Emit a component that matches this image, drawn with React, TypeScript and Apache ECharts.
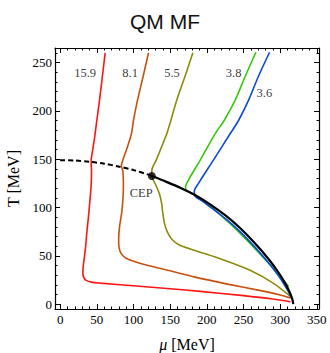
import React, { useEffect, useRef } from "react";
import * as echarts from "echarts";

const majorX = [0, 50, 100, 150, 200, 250, 300, 350];
const minorX = [0, 10, 20, 30, 40, 50, 60, 70, 80, 90, 100, 110, 120, 130, 140, 150, 160, 170, 180, 190, 200, 210, 220, 230, 240, 250, 260, 270, 280, 290, 300, 310, 320, 330, 340, 350];
const majorY = [0, 50, 100, 150, 200, 250];
const minorY = [0, 10, 20, 30, 40, 50, 60, 70, 80, 90, 100, 110, 120, 130, 140, 150, 160, 170, 180, 190, 200, 210, 220, 230, 240, 250, 260];

// isentropes s/n (mu [MeV], T [MeV])
const s159: number[][] = [[61.4, 260], [57.5, 235], [53.7, 211], [50, 190], [47.5, 175], [44.5, 160], [42.3, 147.5], [42.8, 138], [42.6, 128], [41.5, 115], [40, 102], [38.3, 88], [36.5, 75], [34.8, 60], [33, 48], [31.3, 38], [31, 32], [32.3, 27.5], [35.5, 24.6], [43, 22.8], [55, 21.8], [100, 19], [150, 16], [191, 13.2], [250, 8.8], [290, 5.3], [314, 2.5]];
const s81: number[][] = [[120.5, 260], [113, 235], [105.5, 211], [100, 190], [97.3, 176.5], [91.5, 162], [85.5, 149], [83.5, 143], [85.5, 138], [86.3, 125], [85.8, 111], [84, 95], [81, 80], [79.8, 67], [80.5, 58], [83.5, 52], [90, 47.5], [100, 44.5], [120, 40], [150, 34.5], [184, 28], [230, 20.5], [270, 14.5], [300, 9.5], [314, 6.5]];
const s55: number[][] = [[181, 260], [170, 235], [159, 211], [151, 190], [145.5, 176.5], [138, 162], [131, 149], [125, 138], [125, 132.5], [130, 124], [135.5, 114], [138.5, 104], [140, 94], [142.5, 83], [146, 75], [152, 67.5], [162, 61.5], [184, 55.5], [220, 46.5], [259, 35], [290, 22], [314, 8]];
const s38: number[][] = [[267, 260.6], [252, 235], [238.7, 211], [223.7, 190], [211.5, 176.5], [191, 149], [175, 128.4], [171, 121], [172, 118], [185, 112.3], [195, 107.6], [205, 101.5], [230, 84.5], [255, 66], [287, 40], [311.5, 18.4]];
const s36: number[][] = [[285.6, 260.6], [270, 235], [257, 211], [243.3, 190], [232, 176.5], [209, 149], [188.7, 125], [183, 117], [183, 113.2], [195, 106], [205, 100.3], [225, 88.7], [245, 75.3], [265, 59.5], [285, 42], [298, 29], [307, 18.5], [313, 10.5], [316, 5.5]];
// phase boundary
const crossover: number[][] = [[0, 149], [20, 148.6], [40.9, 147.3], [60, 145.3], [80.9, 142.2], [100, 138.7], [120.5, 134], [125, 132.5]];
const firstOrder: number[][] = [[125, 132.5], [145, 126.5], [165, 120], [185, 112.5], [205, 103], [225, 92], [245, 79], [265, 63.5], [285, 46], [298, 32.5], [307, 21.5], [313, 12.5], [316.5, 5.5], [318, 0]];
const cep: number[][] = [[125, 132.5]];
const curveLabels = [
  { name: "15.9", value: [34, 239] },
  { name: "8.1", value: [95.5, 239] },
  { name: "5.5", value: [152.5, 239] },
  { name: "3.8", value: [236.5, 239] },
  { name: "3.6", value: [278.5, 218.5] },
  { name: "CEP", value: [110.5, 115] },
];

const SERIF = "'Liberation Serif', 'DejaVu Serif', serif";

export default function App() {
  const ref = useRef<HTMLDivElement>(null);
  useEffect(() => {
    if (!ref.current) return;
    const chart = echarts.init(ref.current, null, { renderer: "svg" });
    const frame = { show: true, onZero: false, lineStyle: { color: "#000", width: 1.2 } };
    const hidden = { show: false, onZero: false };
    const xBase = { type: "value", min: -7, max: 353, splitLine: { show: false } };
    const yBase = { type: "value", min: -5, max: 265, splitLine: { show: false } };
    const noLabel = { show: false };
    const lineS = (data: number[][], color: string, w = 1.6) => ({
      type: "line",
      data,
      showSymbol: false,
      symbol: "none",
      smooth: 0.3,
      lineStyle: { color, width: w },
      z: 2,
    });
    chart.setOption({
      animation: false,
      backgroundColor: "#fff",
      title: {
        text: "QM MF",
        left: "center",
        top: 6,
        textStyle: { fontFamily: "'Liberation Sans', Arial, sans-serif", fontSize: 21, fontWeight: "normal", color: "#111" },
      },
      grid: { left: 55, right: 11, top: 48, bottom: 44, containLabel: false, outerBoundsMode: "none" },
      xAxis: [
        {
          ...xBase,
          position: "bottom",
          axisLine: frame,
          axisTick: { show: true, inside: true, length: 5, customValues: majorX, lineStyle: { color: "#000" } },
          axisLabel: { show: true, customValues: majorX, fontFamily: SERIF, fontSize: 13, color: "#000", margin: 4 },
          name: "{i|μ} [MeV]",
          nameLocation: "middle",
          nameGap: 27,
          nameTextStyle: { fontFamily: SERIF, fontSize: 16, color: "#000", rich: { i: { fontFamily: SERIF, fontSize: 16, fontStyle: "italic", color: "#000" } } },
        },
        { ...xBase, position: "bottom", axisLine: hidden, axisTick: { show: true, inside: true, length: 2.5, customValues: minorX, lineStyle: { color: "#000" } }, axisLabel: noLabel },
        { ...xBase, position: "top", axisLine: frame, axisTick: { show: true, inside: true, length: 5, customValues: majorX, lineStyle: { color: "#000" } }, axisLabel: noLabel },
        { ...xBase, position: "top", axisLine: hidden, axisTick: { show: true, inside: true, length: 2.5, customValues: minorX, lineStyle: { color: "#000" } }, axisLabel: noLabel },
      ],
      yAxis: [
        {
          ...yBase,
          position: "left",
          axisLine: frame,
          axisTick: { show: true, inside: true, length: 5, customValues: majorY, lineStyle: { color: "#000" } },
          axisLabel: { show: true, customValues: majorY, fontFamily: SERIF, fontSize: 13, color: "#000", margin: 3 },
          name: "T [MeV]",
          nameLocation: "middle",
          nameRotate: 90,
          nameGap: 32,
          nameTextStyle: { fontFamily: SERIF, fontSize: 16, color: "#000" },
        },
        { ...yBase, position: "left", axisLine: hidden, axisTick: { show: true, inside: true, length: 2.5, customValues: minorY, lineStyle: { color: "#000" } }, axisLabel: noLabel },
        { ...yBase, position: "right", axisLine: frame, axisTick: { show: true, inside: true, length: 5, customValues: majorY, lineStyle: { color: "#000" } }, axisLabel: noLabel },
        { ...yBase, position: "right", axisLine: hidden, axisTick: { show: true, inside: true, length: 2.5, customValues: minorY, lineStyle: { color: "#000" } }, axisLabel: noLabel },
      ],
      series: [
        lineS(s159, "#ff1414"),
        lineS(s81, "#c8500f"),
        lineS(s55, "#8c8a0a"),
        lineS(s38, "#38c80a"),
        lineS(s36, "#0a4bd2"),
        { ...lineS(crossover, "#000", 2), lineStyle: { color: "#000", width: 2, type: [5, 3] }, z: 3 },
        { ...lineS(firstOrder, "#000", 2.2), z: 3 },
        { type: "scatter", data: cep, symbol: "circle", symbolSize: 8, itemStyle: { color: "#000" }, z: 4 },
        {
          type: "scatter",
          data: curveLabels,
          symbolSize: 0,
          z: 5,
          label: { show: true, position: "inside", formatter: "{b}", fontFamily: SERIF, fontSize: 12.5, color: "#000" },
        },
      ],
    });
    return () => chart.dispose();
  }, []);
  return <div ref={ref} style={{ position: "absolute", left: 0, top: 0, width: 330, height: 353 }} />;
}
